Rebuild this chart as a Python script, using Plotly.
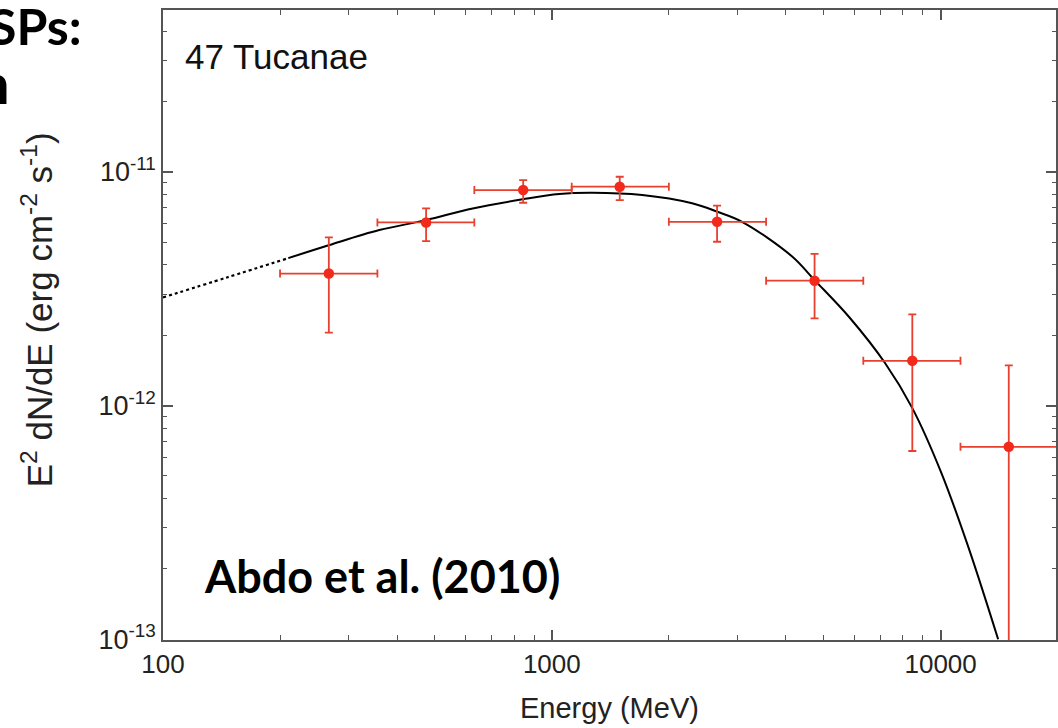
import plotly.graph_objects as go

# ---- data ----
energy = [267, 475, 844, 1495, 2661, 4740, 8456, 14970]           # MeV (bin centres)
flux = [3.67e-12, 6.07e-12, 8.35e-12, 8.63e-12, 6.11e-12, 3.42e-12, 1.554e-12, 6.66e-13]
flux_hi = [5.24e-12, 6.97e-12, 9.21e-12, 9.52e-12, 7.16e-12, 4.45e-12, 2.455e-12, 1.486e-12]
flux_lo = [2.05e-12, 5.05e-12, 7.37e-12, 7.57e-12, 5.02e-12, 2.36e-12, 6.39e-13, 1e-14]
bin_edges = [200, 356, 632, 1125, 2000, 3557, 6325, 11247, 20000]

model_dot_E = [100, 146, 210]
model_dot_F = [2.90e-12, 3.53e-12, 4.27e-12]
model_E = [210, 268, 360, 475, 626, 841, 1044, 1271, 1708, 2295, 2661, 3084,
           4137, 4740, 5830, 7194, 8456, 10053, 11773, 14056]
model_F = [4.27e-12, 4.86e-12, 5.63e-12, 6.21e-12, 6.97e-12, 7.62e-12, 8.03e-12, 8.13e-12,
           7.95e-12, 7.33e-12, 6.75e-12, 6.11e-12, 4.36e-12, 3.44e-12, 2.38e-12, 1.52e-12,
           9.75e-13, 5.13e-13, 2.49e-13, 1.0e-13]

x_ticks = [100, 1000, 10000]
x_ticktext = ["100", "1000", "10000"]
y_ticks = [1e-13, 1e-12, 1e-11]
y_ticktext = ["10<sup>-13</sup>", "10<sup>-12</sup>", "10<sup>-11</sup>"]

# ---- derived error sizes ----
e_lo = bin_edges[:-1]
e_hi = bin_edges[1:]
ex_minus = [e - lo for e, lo in zip(energy, e_lo)]
ex_plus = [hi - e for e, hi in zip(energy, e_hi)]
fy_minus = [f - lo for f, lo in zip(flux, flux_lo)]
fy_plus = [hi - f for f, hi in zip(flux, flux_hi)]

RED = "#f22a1c"
RED_BAR = "#e8402f"
AX = "#555555"
SANS = "Liberation Sans, Arial, sans-serif"
BOLD = "Lato, sans-serif"

fig = go.Figure()
fig.add_trace(go.Scatter(x=model_dot_E, y=model_dot_F, mode="lines",
                         line=dict(color="black", width=2.2, dash="dot", shape="spline"),
                         showlegend=False, hoverinfo="skip"))
fig.add_trace(go.Scatter(x=model_E, y=model_F, mode="lines",
                         line=dict(color="black", width=2, shape="spline"),
                         showlegend=False, hoverinfo="skip"))
fig.add_trace(go.Scatter(
    x=energy, y=flux, mode="markers",
    marker=dict(color=RED, size=10.5),
    error_x=dict(type="data", symmetric=False, array=ex_plus, arrayminus=ex_minus,
                 color=RED_BAR, thickness=1.8, width=4),
    error_y=dict(type="data", symmetric=False, array=fy_plus, arrayminus=fy_minus,
                 color=RED_BAR, thickness=1.8, width=4),
    showlegend=False))

PW, PH = 895, 630
L, T = 163, 10


def px(xp):
    return (xp - L) / PW


def py(yp):
    return (T + PH - yp) / PH


fig.update_layout(
    width=1058, height=728,
    margin=dict(l=L, r=0, t=T, b=728 - T - PH),
    paper_bgcolor="white", plot_bgcolor="white",
    xaxis=dict(type="log", range=[2, 4.2967], tickvals=x_ticks, ticktext=x_ticktext,
               ticks="inside", ticklen=10, tickwidth=1.5, tickcolor=AX,
               showline=True, linecolor=AX, linewidth=1.5, mirror="allticks",
               showgrid=False, zeroline=False,
               tickfont=dict(family=SANS, size=26, color="#222"),
               minor=dict(ticks="inside", ticklen=5, tickwidth=1, tickcolor=AX, showgrid=False,
                          tickvals=[200, 300, 400, 500, 600, 700, 800, 900,
                                    2000, 3000, 4000, 5000, 6000, 7000, 8000, 9000])),
    yaxis=dict(type="log", range=[-13.003, -10.308], tickvals=y_ticks, ticktext=y_ticktext,
               ticks="inside", ticklen=10, tickwidth=1.5, tickcolor=AX,
               showline=True, linecolor=AX, linewidth=1.5, mirror="allticks",
               showgrid=False, zeroline=False,
               tickfont=dict(family=SANS, size=27, color="#222"),
               minor=dict(ticks="inside", ticklen=4, tickwidth=1, tickcolor=AX, showgrid=False,
                          tickvals=[2e-13, 3e-13, 4e-13, 5e-13, 6e-13, 7e-13, 8e-13, 9e-13,
                                    2e-12, 3e-12, 4e-12, 5e-12, 6e-12, 7e-12, 8e-12, 9e-12,
                                    2e-11, 3e-11, 4e-11])),
    annotations=[
        dict(text="47 Tucanae", xref="paper", yref="paper", x=px(183), y=py(57),
             xanchor="left", yanchor="middle", showarrow=False,
             font=dict(family=SANS, size=35, color="#111")),
        dict(text="Abdo et al. (2010)", xref="paper", yref="paper", x=px(202), y=py(576),
             xanchor="left", yanchor="middle", showarrow=False,
             font=dict(family=BOLD, size=45, color="black", weight="bold")),
        dict(text="Energy (MeV)", xref="paper", yref="paper", x=px(610), y=py(708),
             xanchor="center", yanchor="middle", showarrow=False,
             font=dict(family=SANS, size=29, color="#222")),
        dict(text="E<sup>2</sup> dN/dE (erg cm<sup>-2</sup> s<sup>-1</sup>)",
             xref="paper", yref="paper", x=px(37), y=py(310), textangle=-90,
             xanchor="center", yanchor="middle", showarrow=False,
             font=dict(family=SANS, size=35, color="#222")),
        dict(text="SPs:", xref="paper", yref="paper", x=px(84), y=py(26),
             xanchor="right", yanchor="middle", showarrow=False,
             font=dict(family=BOLD, size=50, color="black", weight="bold")),
        dict(text="n", xref="paper", yref="paper", x=px(12), y=py(82),
             xanchor="right", yanchor="middle", showarrow=False,
             font=dict(family=BOLD, size=56, color="black", weight="bold")),
    ],
)

fig.write_html("out.html")
